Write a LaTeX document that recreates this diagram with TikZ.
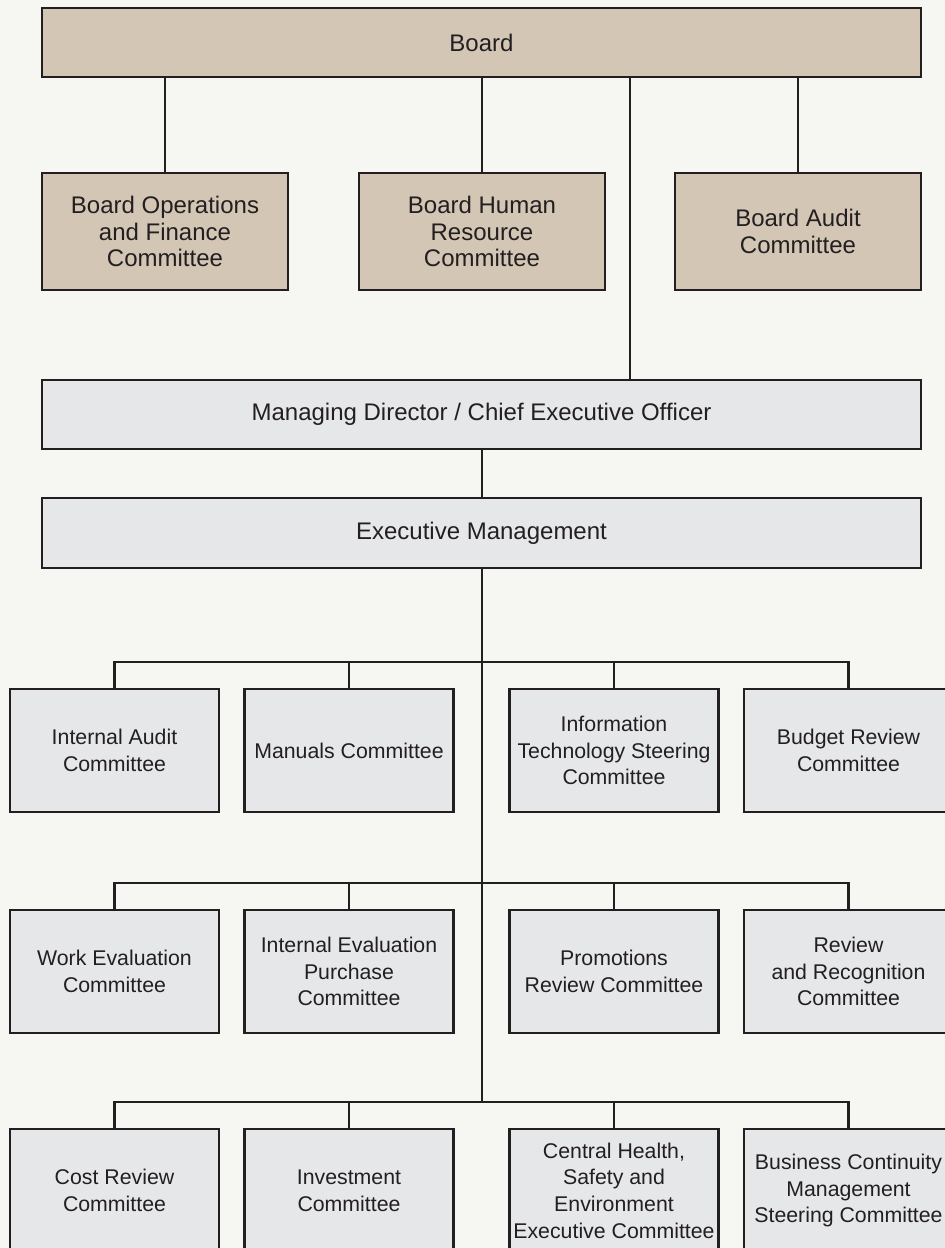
\documentclass[tikz,border=0pt]{standalone}
\usepackage{fontspec}
\setmainfont{Liberation Sans}
\definecolor{bgc}{HTML}{F6F7F2}
\definecolor{tanc}{HTML}{D3C6B5}
\definecolor{greyc}{HTML}{E6E7E9}
\definecolor{inkc}{HTML}{231F20}
\begin{document}
\begin{tikzpicture}[x=1pt,y=-1pt,
  box/.style={draw=inkc,line width=2.4pt,text=inkc,align=center,inner sep=0pt,anchor=center},
  tanbox/.style={box,fill=tanc,font=\fontsize{24}{26.8}\selectfont},
  wide/.style={box,fill=greyc,font=\fontsize{24}{26.8}\selectfont,minimum width=879pt},
  comm/.style={box,fill=greyc,font=\fontsize{21.3}{26.6}\selectfont,minimum width=209pt,minimum height=123pt},
  link/.style={draw=inkc,line width=2.4pt}]
\useasboundingbox (0,0) rectangle (945,1248);
\fill[bgc] (0,0) rectangle (945,1248);
% top level
\node[tanbox,minimum width=879pt,minimum height=69pt] (board) at (481.5,42.5) {Board};
\node[tanbox,minimum width=246pt,minimum height=117pt] (bof) at (165,231.5) {Board Operations\\and Finance\\Committee};
\node[tanbox,minimum width=246pt,minimum height=117pt] (bhr) at (482,231.5) {Board Human\\Resource\\Committee};
\node[tanbox,minimum width=246pt,minimum height=117pt] (bac) at (798,231.5) {Board Audit\\Committee};
\node[wide,minimum height=69pt] (md) at (481.5,414.5) {Managing Director / Chief Executive Officer};
\node[wide,minimum height=70pt] (em) at (481.5,533) {Executive Management};
% row 1
\node[comm] (iac) at (114.5,750.5) {Internal Audit\\Committee};
\node[comm] (man) at (349,750.5) {Manuals Committee};
\node[comm] (its) at (614,750.5) {Information\\Technology Steering\\Committee};
\node[comm] (brc) at (848.5,750.5) {Budget Review\\Committee};
% row 2
\node[comm] (wec) at (114.5,971.5) {Work Evaluation\\Committee};
\node[comm] (iep) at (349,971.5) {Internal Evaluation\\Purchase\\Committee};
\node[comm] (prc) at (614,971.5) {Promotions\\Review Committee};
\node[comm] (rrc) at (848.5,971.5) {Review\\and Recognition\\Committee};
% row 3
\node[comm] (crc) at (114.5,1190.5) {Cost Review\\Committee};
\node[comm] (inv) at (349,1190.5) {Investment\\Committee};
\node[comm] (chs) at (614,1190.5) {Central Health,\\Safety and\\Environment\\Executive Committee};
\node[comm] (bcm) at (848.5,1190.5) {Business Continuity\\Management\\Steering Committee};
% connectors top
\draw[link] (bof.north) -- (bof.north |- board.south);
\draw[link] (bhr.north) -- (bhr.north |- board.south);
\draw[link] (bac.north) -- (bac.north |- board.south);
\coordinate (mdx) at (630,0);
\draw[link] (board.south -| mdx) -- (md.north -| mdx);
\coordinate (mx) at (482,0);
\draw[link] (md.south -| mx) -- (em.north -| mx);
% buses
\coordinate (b1) at (482,662);
\coordinate (b2) at (482,883);
\coordinate (b3) at (482,1102);
\draw[link] (em.south -| mx) -- (b3);
\draw[link] (iac.north) |- (b1) -| (brc.north);
\draw[link] (man.north) -- (man.north |- b1);
\draw[link] (its.north) -- (its.north |- b1);
\draw[link] (wec.north) |- (b2) -| (rrc.north);
\draw[link] (iep.north) -- (iep.north |- b2);
\draw[link] (prc.north) -- (prc.north |- b2);
\draw[link] (crc.north) |- (b3) -| (bcm.north);
\draw[link] (inv.north) -- (inv.north |- b3);
\draw[link] (chs.north) -- (chs.north |- b3);
\end{tikzpicture}
\end{document}
